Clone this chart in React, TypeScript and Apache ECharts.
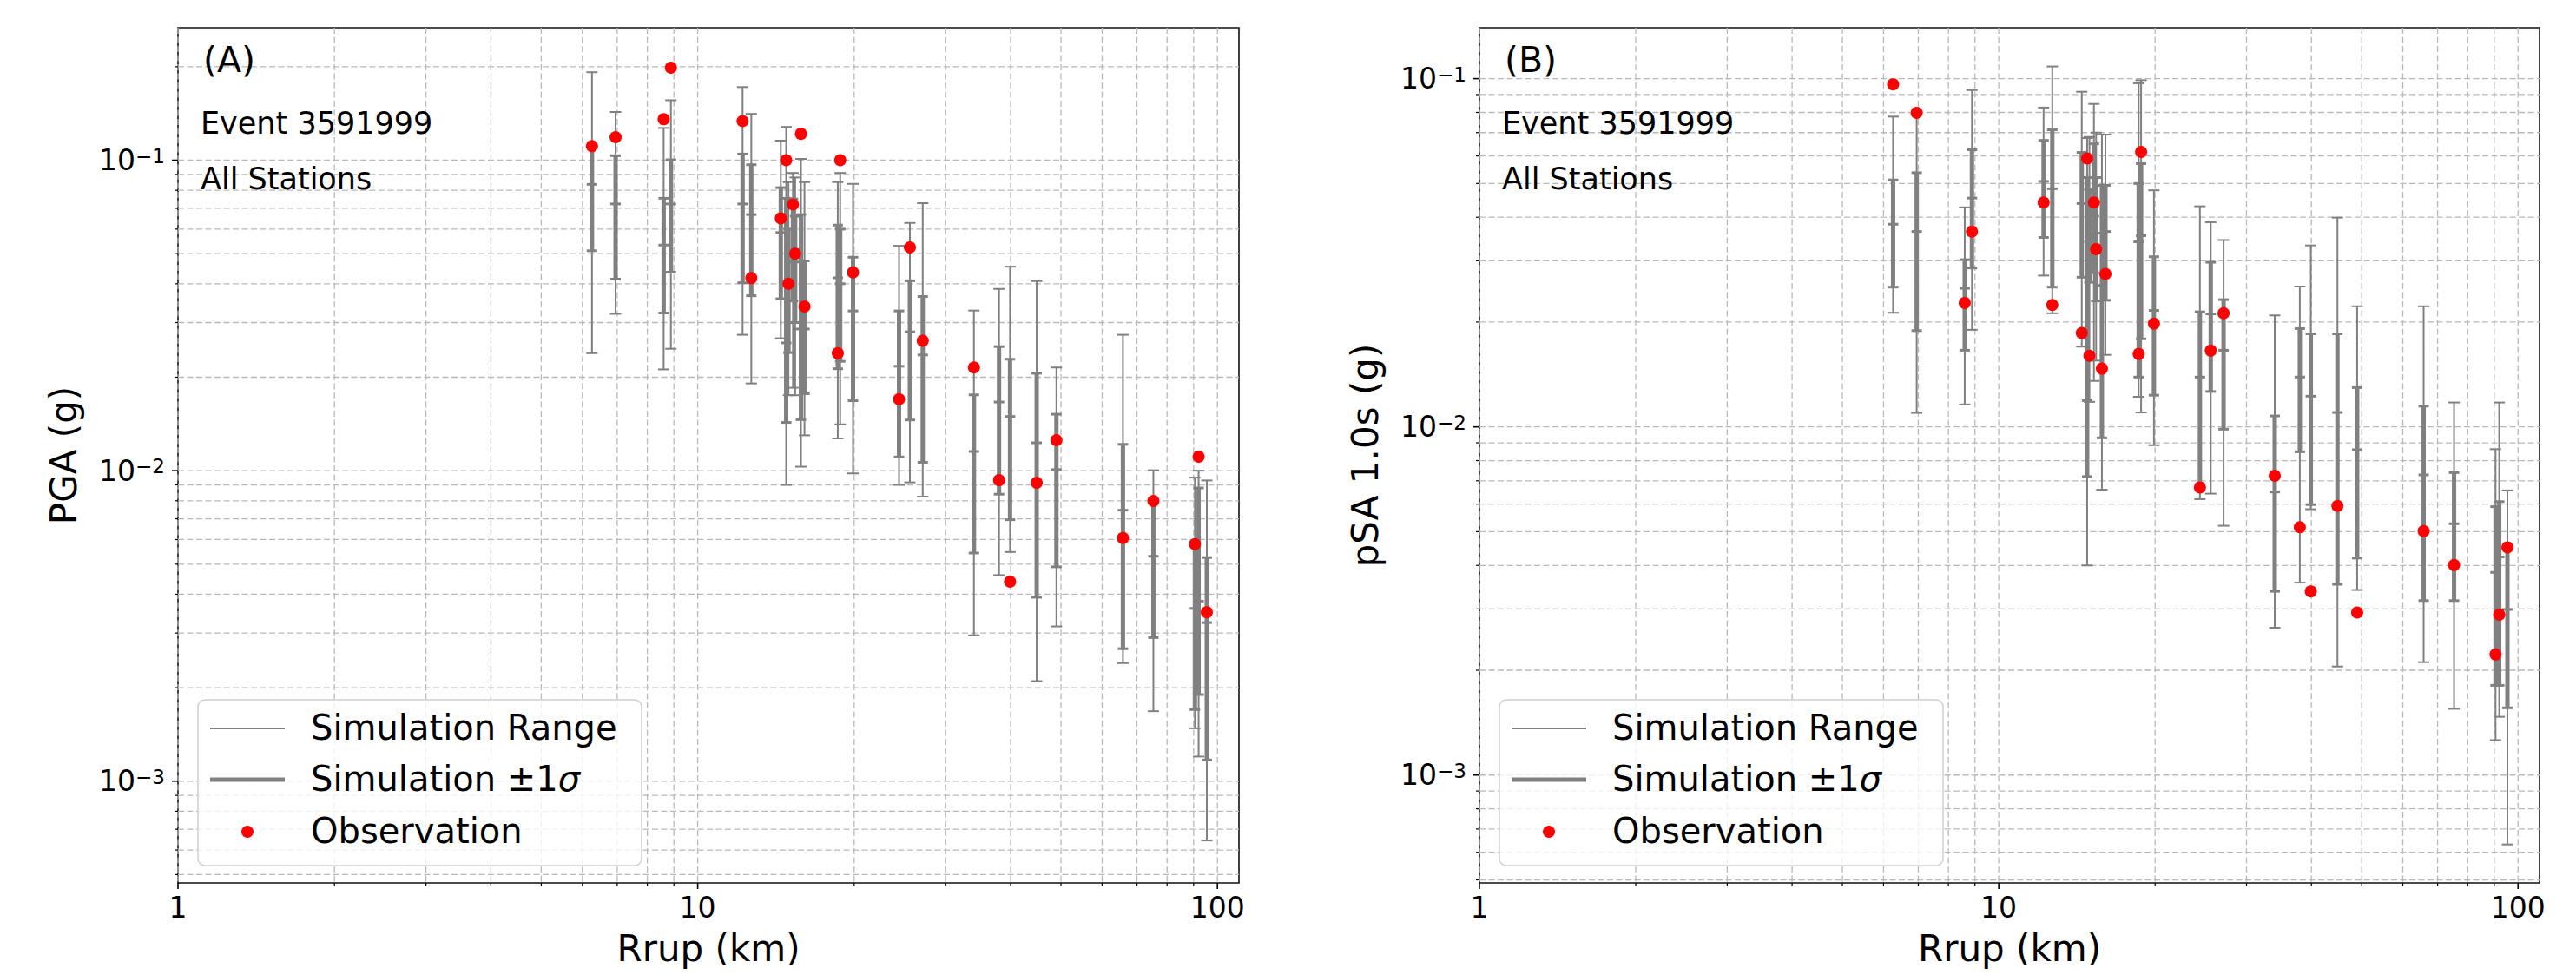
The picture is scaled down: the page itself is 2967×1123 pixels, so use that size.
import React, { useEffect, useRef } from 'react';
import * as echarts from 'echarts';

// ---------- data ----------
const RRUP = [6.26, 6.95, 8.6, 8.88, 12.2, 12.68, 14.45, 14.8, 14.95, 15.25, 15.4, 15.8, 16.05, 18.6, 18.8, 19.9, 24.4, 25.6, 27.1, 34.0, 38.0, 39.9, 44.9, 49.0, 65.8, 75.3, 90.5, 92.0, 95.4];

// Panel A: PGA (g)
const PGA_OBS = [0.111, 0.1186, 0.1355, 0.1987, 0.1336, 0.0417, 0.065, 0.1, 0.04, 0.072, 0.05, 0.1216, 0.0338, 0.0239, 0.1, 0.0435, 0.017, 0.0524, 0.0262, 0.0215, 0.00932, 0.00439, 0.00914, 0.01254, 0.00607, 0.00799, 0.0058, 0.0111, 0.0035];
const PGA_MIN = [0.0239, 0.032, 0.0212, 0.0247, 0.0274, 0.0191, 0.0267, 0.009, 0.0175, 0.0185, 0.0175, 0.0103, 0.013, 0.0127, 0.0141, 0.0098, 0.009, 0.00917, 0.00825, 0.00295, 0.00461, 0.00547, 0.0021, 0.00315, 0.0024, 0.00168, 0.00148, 0.0012, 0.000644];
const PGA_LO = [0.0511, 0.0414, 0.0322, 0.0436, 0.0403, 0.0366, 0.0358, 0.0143, 0.024, 0.0352, 0.03, 0.0146, 0.0177, 0.0213, 0.0225, 0.0168, 0.01107, 0.01457, 0.01064, 0.00543, 0.0084, 0.00695, 0.00391, 0.0049, 0.00267, 0.0029, 0.0017, 0.0019, 0.00117];
const PGA_MID = [0.0836, 0.0723, 0.0533, 0.0723, 0.0723, 0.0668, 0.0585, 0.0258, 0.04, 0.05, 0.047, 0.0286, 0.0286, 0.0418, 0.04, 0.0327, 0.0217, 0.028, 0.0236, 0.01153, 0.01664, 0.01495, 0.0123, 0.01008, 0.00746, 0.0053, 0.0036, 0.0038, 0.00324];
const PGA_HI = [0.112, 0.1034, 0.0754, 0.1003, 0.1047, 0.0967, 0.0816, 0.0754, 0.06, 0.075, 0.066, 0.0668, 0.0474, 0.0618, 0.06, 0.0487, 0.0327, 0.0409, 0.0364, 0.01755, 0.0251, 0.02286, 0.0206, 0.0152, 0.01216, 0.00787, 0.0058, 0.0088, 0.00525];
const PGA_MAX = [0.192, 0.143, 0.127, 0.156, 0.172, 0.141, 0.1156, 0.128, 0.085, 0.091, 0.088, 0.101, 0.085, 0.085, 0.091, 0.0839, 0.053, 0.0628, 0.0727, 0.0328, 0.0385, 0.0454, 0.0408, 0.0215, 0.0274, 0.01003, 0.0095, 0.01, 0.0093];

// Panel B: pSA 1.0s (g)
const PSA_OBS = [0.0963, 0.0798, 0.0227, 0.0364, 0.0441, 0.0224, 0.0186, 0.059, 0.016, 0.0441, 0.0324, 0.0147, 0.0275, 0.0162, 0.0616, 0.0198, 0.0067, 0.01656, 0.0212, 0.00724, 0.00515, 0.00337, 0.00593, 0.00293, 0.00502, 0.00401, 0.00222, 0.00289, 0.00451];
const PSA_MIN = [0.02127, 0.01097, 0.0116, 0.019, 0.0272, 0.0212, 0.017, 0.004, 0.0118, 0.01355, 0.0155, 0.0066, 0.0161, 0.0122, 0.011, 0.00886, 0.0062, 0.00643, 0.0052, 0.00265, 0.00357, 0.0058, 0.00205, 0.0034, 0.00211, 0.00155, 0.00126, 0.00147, 0.000632];
const PSA_LO = [0.0252, 0.0189, 0.0166, 0.0286, 0.035, 0.0252, 0.0269, 0.0072, 0.026, 0.0277, 0.023, 0.0093, 0.0231, 0.0139, 0.0179, 0.01233, 0.0066, 0.01264, 0.00985, 0.00337, 0.00848, 0.00598, 0.00353, 0.0042, 0.00317, 0.00317, 0.00181, 0.00181, 0.00156];
const PSA_MID = [0.0382, 0.0364, 0.025, 0.0454, 0.0507, 0.0483, 0.0438, 0.0119, 0.034, 0.0403, 0.036, 0.0255, 0.0364, 0.034, 0.0354, 0.0216, 0.0139, 0.0211, 0.0166, 0.0065, 0.0139, 0.01225, 0.011, 0.0086, 0.00728, 0.00527, 0.00382, 0.00423, 0.00299];
const PSA_HI = [0.0512, 0.0537, 0.0302, 0.0625, 0.0665, 0.0713, 0.0614, 0.052, 0.048, 0.065, 0.052, 0.0494, 0.0494, 0.05, 0.057, 0.0308, 0.0214, 0.0297, 0.0232, 0.01075, 0.01916, 0.0185, 0.0185, 0.01297, 0.01147, 0.00739, 0.0059, 0.0061, 0.0045];
const PSA_MAX = [0.0778, 0.08, 0.0427, 0.0927, 0.0826, 0.1084, 0.0917, 0.0675, 0.068, 0.0846, 0.07, 0.0691, 0.0691, 0.097, 0.099, 0.0478, 0.043, 0.0387, 0.0344, 0.0209, 0.0253, 0.0332, 0.0399, 0.0222, 0.0222, 0.01175, 0.00863, 0.01175, 0.00657];

// axis ranges and tick positions
const X_RANGE = [1, 110];
const Y_RANGE_A = [4.7e-4, 0.267];
const Y_RANGE_B = [4.9e-4, 0.14];
const DECADE_EXPONENTS_X = [0, 1, 2];
const DECADE_EXPONENTS_Y = [-4, -3, -2, -1];
const MANTISSAS = [1, 2, 3, 4, 5, 6, 7, 8, 9];

const PANEL_LABELS = ['(A)', '(B)'];
const EVENT_TEXT = 'Event 3591999';
const STATION_TEXT = 'All Stations';
const Y_NAMES = ['PGA (g)', 'pSA 1.0s (g)'];
const X_NAME = 'Rrup (km)';
const LEGEND_NAMES = ['Simulation Range', 'Simulation \u00b11{i|\u03c3}', 'Observation'];

// ---------- styles ----------
const FONT = 'DejaVu Sans';
const GRAY = '#808080';
const RED = '#ff0000';
const GRID_COLOR = '#b9b9b9';

function gridItems(range: number[], exps: number[], orient: number) {
  const out: number[][] = [];
  exps.forEach((e) => {
    MANTISSAS.forEach((m) => {
      const v = m * Math.pow(10, e);
      if (v >= range[0] * 0.9999 && v <= range[1] * 1.0001) {
        out.push(orient === 0 ? [v, 0.01, 0, m === 1 ? 1 : 0] : [10, v, 1, m === 1 ? 1 : 0]);
      }
    });
  });
  return out;
}

const gridRender = (params: any, api: any) => {
  const cs = params.coordSys;
  const orient = api.value(2);
  const major = api.value(3) === 1;
  const len = major ? 7 : 4;
  const tw = major ? 1.6 : 1.2;
  const dash = { stroke: GRID_COLOR, lineWidth: 1.3, lineDash: [7, 3.5] };
  const tick = { stroke: '#000', lineWidth: tw };
  if (orient === 0) {
    const px = api.coord([api.value(0), api.value(1)])[0];
    return {
      type: 'group',
      children: [
        { type: 'line', shape: { x1: px, y1: cs.y, x2: px, y2: cs.y + cs.height }, style: dash },
        { type: 'line', shape: { x1: px, y1: cs.y + cs.height, x2: px, y2: cs.y + cs.height + len }, style: tick },
      ],
    };
  }
  const py = api.coord([api.value(0), api.value(1)])[1];
  return {
    type: 'group',
    children: [
      { type: 'line', shape: { x1: cs.x, y1: py, x2: cs.x + cs.width, y2: py }, style: dash },
      { type: 'line', shape: { x1: cs.x - len, y1: py, x2: cs.x, y2: py }, style: tick },
    ],
  };
};

const rangeRender = (params: any, api: any) => {
  const x = api.value(0);
  const pb = api.coord([x, api.value(1)]);
  const pt = api.coord([x, api.value(2)]);
  const st = { stroke: GRAY, lineWidth: 2 };
  const c = 6.5;
  return {
    type: 'group',
    children: [
      { type: 'line', shape: { x1: pt[0], y1: pt[1], x2: pb[0], y2: pb[1] }, style: st },
      { type: 'line', shape: { x1: pt[0] - c, y1: pt[1], x2: pt[0] + c, y2: pt[1] }, style: st },
      { type: 'line', shape: { x1: pb[0] - c, y1: pb[1], x2: pb[0] + c, y2: pb[1] }, style: st },
    ],
  };
};

const sigmaRender = (params: any, api: any) => {
  const x = api.value(0);
  const pl = api.coord([x, api.value(1)]);
  const pm = api.coord([x, api.value(2)]);
  const ph = api.coord([x, api.value(3)]);
  const bar = { stroke: GRAY, lineWidth: 5 };
  const capS = { stroke: GRAY, lineWidth: 3 };
  const c = 6;
  return {
    type: 'group',
    children: [
      { type: 'line', shape: { x1: ph[0], y1: ph[1], x2: pl[0], y2: pl[1] }, style: bar },
      { type: 'line', shape: { x1: ph[0] - c, y1: ph[1], x2: ph[0] + c, y2: ph[1] }, style: capS },
      { type: 'line', shape: { x1: pl[0] - c, y1: pl[1], x2: pl[0] + c, y2: pl[1] }, style: capS },
      { type: 'line', shape: { x1: pm[0] - c, y1: pm[1], x2: pm[0] + c, y2: pm[1] }, style: capS },
    ],
  };
};

function isDecade(v: number) {
  const l = Math.log10(v);
  return Math.abs(l - Math.round(l)) < 1e-6;
}

function panelGraphics(dx: number, idx: number) {
  const txt = (x: number, y: number, text: string, size: number, extra: any = {}) => ({
    type: 'text',
    x: x + dx,
    y,
    z: 100,
    silent: true,
    style: { text, fontSize: size, fontFamily: FONT, fill: '#000', verticalAlign: 'middle', align: 'left', ...extra },
  });
  return [
    txt(234, 69, PANEL_LABELS[idx], 41),
    txt(231, 142, EVENT_TEXT, 35),
    txt(231, 206, STATION_TEXT, 35),
    {
      type: 'rect',
      z: 99,
      silent: true,
      shape: { x: 228 + dx, y: 806, width: 511, height: 191, r: 8 },
      style: { fill: 'rgba(255,255,255,0.8)', stroke: '#d0d0d0', lineWidth: 1.5 },
    },
    { type: 'line', z: 100, silent: true, shape: { x1: 242 + dx, y1: 839, x2: 328 + dx, y2: 839 }, style: { stroke: GRAY, lineWidth: 2 } },
    { type: 'line', z: 100, silent: true, shape: { x1: 242 + dx, y1: 898, x2: 328 + dx, y2: 898 }, style: { stroke: GRAY, lineWidth: 5 } },
    { type: 'circle', z: 100, silent: true, shape: { cx: 285 + dx, cy: 958, r: 7 }, style: { fill: RED } },
    txt(358, 838, LEGEND_NAMES[0], 40),
    txt(358, 897, LEGEND_NAMES[1], 40, { rich: { i: { fontStyle: 'italic', fontSize: 40, fontFamily: FONT, fill: '#000' } } }),
    txt(358, 957, LEGEND_NAMES[2], 40),
  ];
}

const GRIDS = [
  { left: 205, top: 32, width: 1222, height: 985 },
  { left: 1704, top: 32, width: 1221, height: 985 },
];

function buildOption() {
  const panels = [
    { yr: Y_RANGE_A, obs: PGA_OBS, mn: PGA_MIN, lo: PGA_LO, md: PGA_MID, hi: PGA_HI, mx: PGA_MAX },
    { yr: Y_RANGE_B, obs: PSA_OBS, mn: PSA_MIN, lo: PSA_LO, md: PSA_MID, hi: PSA_HI, mx: PSA_MAX },
  ];
  const grid = GRIDS.map((g) => ({
    ...g,
    show: true,
    borderColor: '#111',
    borderWidth: 1.6,
    backgroundColor: 'transparent',
    containLabel: false,
    outerBoundsMode: 'none',
  }));
  const xAxis = panels.map((_, i) => ({
    type: 'log',
    logBase: 10,
    gridIndex: i,
    min: X_RANGE[0],
    max: X_RANGE[1],
    name: X_NAME,
    nameLocation: 'middle',
    nameGap: 54,
    nameTextStyle: { fontSize: 42, fontFamily: FONT, color: '#000' },
    axisLine: { show: false },
    axisTick: { show: false },
    splitLine: { show: false },
    minorTick: { show: false },
    axisLabel: {
      margin: 12,
      fontSize: 33,
      fontFamily: FONT,
      color: '#000',
      formatter: (v: number) => (isDecade(v) ? String(Math.round(v)) : ''),
    },
  }));
  const yAxis = panels.map((p, i) => ({
    type: 'log',
    logBase: 10,
    gridIndex: i,
    min: p.yr[0],
    max: p.yr[1],
    name: Y_NAMES[i],
    nameLocation: 'middle',
    nameGap: 111,
    nameTextStyle: { fontSize: 42, fontFamily: FONT, color: '#000' },
    axisLine: { show: false },
    axisTick: { show: false },
    splitLine: { show: false },
    minorTick: { show: false },
    axisLabel: {
      margin: 15,
      color: '#000',
      formatter: (v: number) => {
        if (!isDecade(v)) return '';
        const e = Math.round(Math.log10(v));
        return `{b|10}{s|\u2212${-e}}`;
      },
      rich: {
        b: { fontSize: 33, fontFamily: FONT, color: '#000' },
        s: { fontSize: 23, fontFamily: FONT, color: '#000', verticalAlign: 'top' },
      },
    },
  }));

  const series: any[] = [];
  panels.forEach((p, i) => {
    const gridData = [
      ...gridItems(X_RANGE, DECADE_EXPONENTS_X, 0),
      ...gridItems(p.yr, DECADE_EXPONENTS_Y, 1),
    ];
    series.push({
      type: 'custom',
      name: 'grid' + i,
      xAxisIndex: i,
      yAxisIndex: i,
      z: 1,
      silent: true,
      clip: false,
      renderItem: gridRender,
      data: gridData,
    });
    series.push({
      type: 'custom',
      name: 'Simulation Range',
      xAxisIndex: i,
      yAxisIndex: i,
      z: 2,
      silent: true,
      renderItem: rangeRender,
      data: RRUP.map((r, k) => [r, p.mn[k], p.mx[k]]),
    });
    series.push({
      type: 'custom',
      name: 'Simulation \u00b11\u03c3',
      xAxisIndex: i,
      yAxisIndex: i,
      z: 3,
      silent: true,
      renderItem: sigmaRender,
      data: RRUP.map((r, k) => [r, p.lo[k], p.md[k], p.hi[k]]),
    });
    series.push({
      type: 'scatter',
      name: 'Observation',
      xAxisIndex: i,
      yAxisIndex: i,
      z: 4,
      silent: true,
      symbol: 'circle',
      symbolSize: 14,
      itemStyle: { color: RED, opacity: 1 },
      data: RRUP.map((r, k) => [r, p.obs[k]]),
    });
  });

  return {
    animation: false,
    backgroundColor: '#ffffff',
    grid,
    xAxis,
    yAxis,
    series,
    graphic: { elements: [...panelGraphics(0, 0), ...panelGraphics(1499, 1)] },
  };
}

export default function App() {
  const ref = useRef<HTMLDivElement>(null);
  useEffect(() => {
    if (!ref.current) return;
    const chart = echarts.init(ref.current, undefined, { renderer: 'svg' });
    chart.setOption(buildOption() as any);
    return () => chart.dispose();
  }, []);
  return (
    <div
      ref={ref}
      style={{ position: 'absolute', left: 0, top: 0, width: 2967, height: 1123, background: '#fff' }}
    />
  );
}
